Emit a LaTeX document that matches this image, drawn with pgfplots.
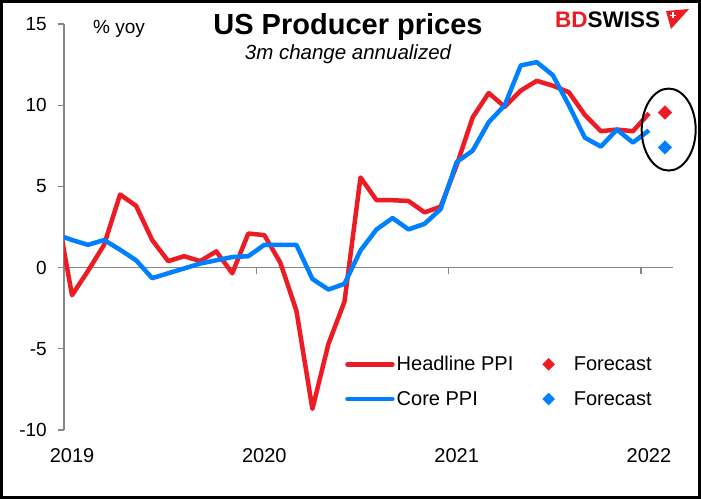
\documentclass[border=0pt]{standalone}
\usepackage{pgfplots}
\pgfplotsset{compat=1.18}
\usepackage{pgfplotstable}
\usepackage{fontspec}
\setmainfont{Liberation Sans}

\definecolor{ppired}{RGB}{237,28,36}
\definecolor{ppiblue}{RGB}{0,128,255}
\definecolor{axisgray}{RGB}{134,134,134}

\pgfplotsset{
  ppi line key/.style={legend image code/.code={\draw[##1] (0pt,0pt) -- (45pt,0pt);}},
  ppi diamond key/.style={legend image code/.code={\path (0pt,0pt) (30pt,0pt);
      \fill[#1] (7pt,0pt) +(0pt,6pt) -- +(6pt,0pt) -- +(0pt,-6pt) -- +(-6pt,0pt) -- cycle;}},
}

% month index: Dec 2018 = -0.5, Jan 2019 = 0.5, ..., Jan 2022 = 36.5
\pgfplotstableread{
x     y
-0.5  3.8
0.5  -1.7
1.5  -0.2
2.5   1.4
3.5   4.5
4.5   3.8
5.5   1.7
6.5   0.4
7.5   0.7
8.5   0.4
9.5   1.0
10.5 -0.35
11.5  2.1
12.5  2.0
13.5  0.3
14.5 -2.65
15.5 -8.7
16.5 -4.7
17.5 -2.1
18.5  5.55
19.5  4.15
20.5  4.15
21.5  4.1
22.5  3.4
23.5  3.75
24.5  6.3
25.5  9.25
26.5 10.75
27.5  9.9
28.5 10.9
29.5 11.5
30.5 11.2
31.5 10.8
32.5  9.4
33.5  8.4
34.5  8.5
35.5  8.4
36.5  9.5
}\headline

\pgfplotstableread{
x     y
-0.5  2.05
0.5   1.7
1.5   1.4
2.5   1.7
3.5   1.1
4.5   0.45
5.5  -0.65
6.5  -0.35
7.5  -0.05
8.5   0.25
9.5   0.45
10.5  0.65
11.5  0.7
12.5  1.4
13.5  1.4
14.5  1.4
15.5 -0.7
16.5 -1.35
17.5 -1.0
18.5  1.05
19.5  2.35
20.5  3.05
21.5  2.35
22.5  2.7
23.5  3.6
24.5  6.5
25.5  7.2
26.5  8.95
27.5 10.0
28.5 12.45
29.5 12.65
30.5 11.85
31.5 10.0
32.5  8.0
33.5  7.45
34.5  8.5
35.5  7.7
36.5  8.45
}\core

\begin{document}
\begin{tikzpicture}
\useasboundingbox (0,0) rectangle (701pt,499pt);
\fill[white] (0,0) rectangle (701pt,499pt);

\begin{axis}[
  at={(64pt,69pt)}, anchor=south west,
  scale only axis, width=609pt, height=406pt,
  xmin=0, xmax=38, ymin=-10, ymax=15,
  axis lines*=left,
  x axis line style={draw=none},
  y axis line style={axisgray, line width=1.3pt},
  tick align=outside, major tick length=6pt,
  ytick={-10,-5,0,5,10,15},
  ytick style={axisgray, line width=1.3pt},
  xtick={0.5,12.5,24.5,36.5},
  xticklabels={2019,2020,2021,2022},
  xtick style={draw=none},
  xticklabel style={anchor=base, yshift=-26pt, font=\fontsize{20}{24}\selectfont},
  yticklabel style={anchor=east, inner sep=0pt, xshift=-11pt, font=\fontsize{19}{22}\selectfont},
  /pgf/number format/assume math mode=true,
  clip mode=individual,
  legend columns=2,
  legend cell align=left,
  legend style={draw=none, fill=none, font=\fontsize{20}{24}\selectfont,
    at={(axis description cs:0.4614,0.187)}, anchor=north west,
    inner sep=0pt, row sep=15pt,
    nodes={inner sep=2pt},
    /tikz/every even column/.append style={column sep=26pt}},
]
% zero line with year ticks
\draw[axisgray, line width=1.3pt] (axis cs:0,0) -- (axis cs:38,0);
\pgfplotsinvokeforeach{12,24,36}{
  \draw[axisgray, line width=1.3pt] (axis cs:#1,0) -- ++(0pt,-6pt);
}

\addlegendimage{ppired, line width=4.5pt, line cap=round, ppi line key}
\addlegendentry{Headline PPI}
\addlegendimage{ppi diamond key=ppired}
\addlegendentry{Forecast}
\addlegendimage{ppiblue, line width=4.5pt, line cap=round, ppi line key}
\addlegendentry{Core PPI}
\addlegendimage{ppi diamond key=ppiblue}
\addlegendentry{Forecast}

\addplot[ppired, line width=4.5pt, line join=round, forget plot] table[x=x, y=y] {\headline};
\addplot[ppiblue, line width=4.5pt, line join=round, forget plot] table[x=x, y=y] {\core};

% forecasts for Feb 2022
\addplot[only marks, mark=square*, mark size=4.8pt, ppired,
  mark options={rotate=45}, forget plot] coordinates {(37.5,9.55)};
\addplot[only marks, mark=square*, mark size=4.8pt, ppiblue,
  mark options={rotate=45}, forget plot] coordinates {(37.5,7.4)};

\coordinate (fc) at (axis cs:37.73,8.5);
\end{axis}

% ring round the forecasts
\draw[line width=2pt] (fc) ellipse [x radius=27pt, y radius=41pt];

% titles
\node[anchor=base, inner sep=0pt, font=\fontsize{29}{32}\selectfont\bfseries]
  at (348pt,464pt) {US Producer prices};
\node[anchor=base, inner sep=0pt, font=\fontsize{20.5}{24}\selectfont\itshape]
  at (348pt,439pt) {3m change annualized};
\node[anchor=base west, inner sep=0pt, font=\fontsize{19}{22}\selectfont]
  at (93pt,465pt) {\% yoy};

% brand mark
\node[anchor=base west, inner sep=0pt, font=\fontsize{22.5}{24}\selectfont\bfseries]
  at (555pt,471pt) {\textcolor{ppired}{BD}SWISS};
\fill[ppired] (666pt,488pt) -- (689pt,490pt) -- (671pt,470pt) -- cycle;
\draw[white, line width=1.2pt] (670pt,483.5pt) -- (676pt,483.5pt)
  (673pt,480.5pt) -- (673pt,486.5pt);

% frame
\draw[line width=3pt] (1.5pt,1.5pt) rectangle (699.5pt,497.5pt);
\end{tikzpicture}
\end{document}
